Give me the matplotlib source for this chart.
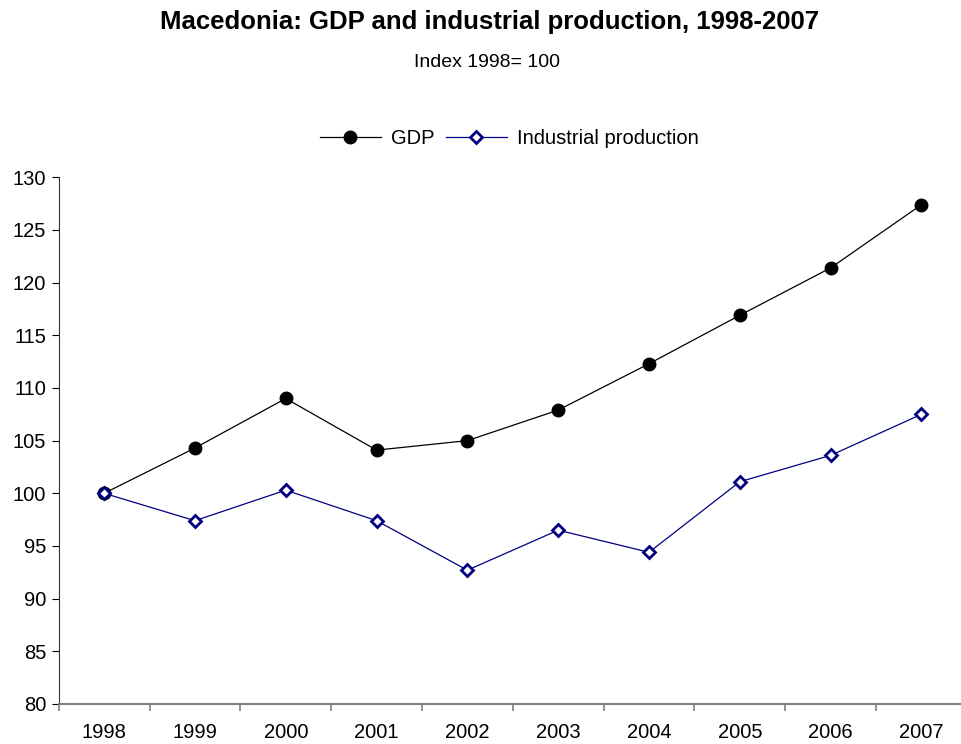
import matplotlib
matplotlib.use('Agg')
import matplotlib.pyplot as plt
import numpy as np

years = ['1998', '1999', '2000', '2001', '2002', '2003', '2004', '2005', '2006', '2007']
gdp = [100.0, 104.3, 109.0, 104.1, 105.0, 107.9, 112.3, 116.9, 121.4, 127.4]
industrial = [100.0, 97.4, 100.3, 97.4, 92.7, 96.5, 94.4, 101.1, 103.6, 107.5]
y_ticks = [80, 85, 90, 95, 100, 105, 110, 115, 120, 125, 130]

plt.rcParams['font.family'] = ['Liberation Sans', 'DejaVu Sans']

fig = plt.figure(figsize=(9.61, 7.44), dpi=100)
ax = fig.add_axes([0.0611, 0.0538, 0.945, 0.7079])

x = np.arange(len(years))
ax.plot(x, gdp, '-o', color='black', lw=0.9, ms=9, label='GDP')
ax.plot(x, industrial, '-D', color='#000080', lw=0.9, ms=6.5,
        mfc='white', mec='#000080', mew=2, label='Industrial production')

ax.set_xlim(-0.5, len(years) - 0.5)
ax.set_ylim(80, 130)
ax.set_yticks(y_ticks)
ax.set_xticks(x)
ax.set_xticklabels(years)
ax.set_xticks(np.arange(len(years) + 1) - 0.5, minor=True)
ax.tick_params(axis='x', which='major', length=0, labelsize=14.5, pad=14)
ax.tick_params(axis='x', which='minor', length=5, color='#808080', width=1.2)
ax.tick_params(axis='y', length=5, labelsize=14.5, pad=4)

for s in ['top', 'right']:
    ax.spines[s].set_visible(False)
ax.spines['bottom'].set_color('#808080')
ax.spines['bottom'].set_linewidth(1.5)
ax.spines['left'].set_color('#333333')

fig.text(0.509, 0.970, 'Macedonia: GDP and industrial production, 1998-2007',
         ha='center', va='center', fontsize=18.5, fontweight='bold')
fig.text(0.507, 0.916, 'Index 1998= 100', ha='center', va='center', fontsize=14)

fig.legend(loc='center', bbox_to_anchor=(0.53, 0.814), ncol=2, frameon=False,
           fontsize=14.5, handlelength=3.0, columnspacing=0.6, handletextpad=0.5)

fig.savefig('out.png', dpi=100)
